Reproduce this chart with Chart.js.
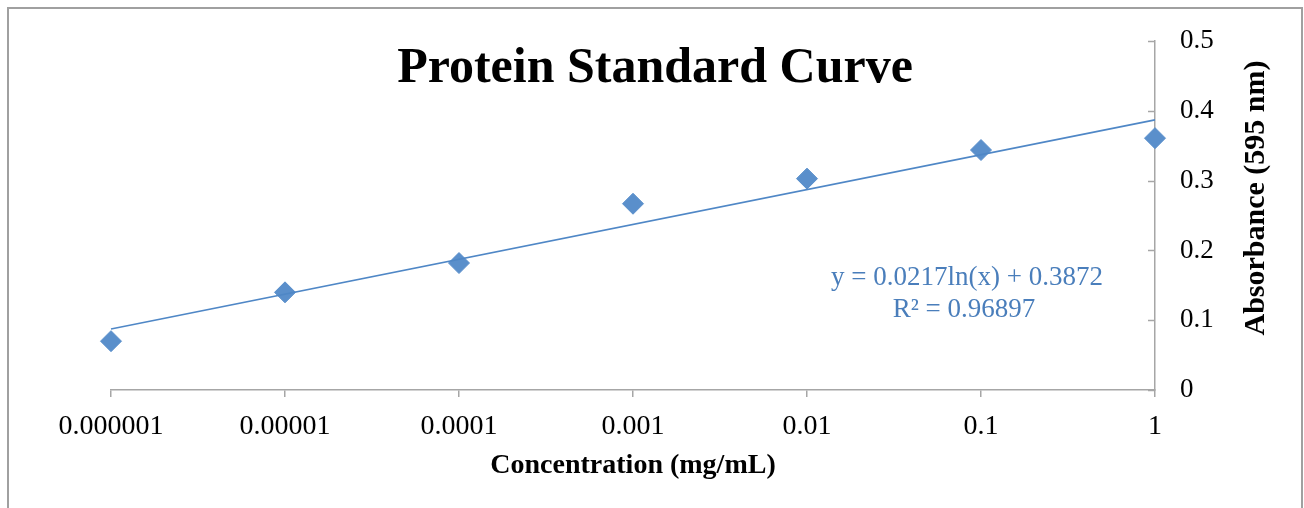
<!DOCTYPE html>
<html>
<head>
<meta charset="utf-8">
<script src="https://cdn.jsdelivr.net/npm/chart.js@4"></script>
<style>
  html, body { margin: 0; padding: 0; background: #fff; }
  #wrap { width: 1304px; height: 508px; }
</style>
</head>
<body>
<div id="wrap"><canvas id="curveChart" width="1304" height="508"></canvas></div>
<script>
// values
const concentrations = [0.000001, 0.00001, 0.0001, 0.001, 0.01, 0.1, 1];
const absorbance = [0.070, 0.140, 0.182, 0.267, 0.303, 0.344, 0.361];
const trendX = [0.000001, 1];
const trendY = [0.0874, 0.3872];
const xTicks = [0.000001, 0.00001, 0.0001, 0.001, 0.01, 0.1, 1];
const xTickLabels = ["0.000001", "0.00001", "0.0001", "0.001", "0.01", "0.1", "1"];
const yTickLabels = ["0", "0.1", "0.2", "0.3", "0.4", "0.5"];
const equationLines = ["y = 0.0217ln(x) + 0.3872", "R\u00b2 = 0.96897"];

const serif = "'Liberation Serif', 'Times New Roman', serif";
const axisGray = "#a6a6a6";
const blue = "#4f87c6";

const extras = {
    id: "extras",
    afterDraw(chart) {
        const ctx = chart.ctx;
        const y = chart.scales.y;
        const area = chart.chartArea;
        ctx.save();

        // outer frame
        ctx.strokeStyle = "#a0a0a0";
        ctx.lineWidth = 2;
        ctx.beginPath();
        ctx.moveTo(8, 520);
        ctx.lineTo(8, 8);
        ctx.lineTo(1302, 8);
        ctx.lineTo(1302, 520);
        ctx.stroke();

        // y tick marks point into the plot
        ctx.strokeStyle = axisGray;
        ctx.lineWidth = 1.5;
        ctx.beginPath();
        y.ticks.forEach(t => {
            const py = Math.round(y.getPixelForValue(t.value)) + 0.5;
            ctx.moveTo(area.right - 7, py);
            ctx.lineTo(area.right, py);
        });
        ctx.stroke();

        // title
        ctx.fillStyle = "#000";
        ctx.textAlign = "center";
        ctx.textBaseline = "alphabetic";
        ctx.font = "bold 50px " + serif;
        ctx.fillText("Protein Standard Curve", 655, 82);

        // y axis title, reads bottom to top
        ctx.save();
        ctx.translate(1264, 198);
        ctx.rotate(-Math.PI / 2);
        ctx.font = "bold 30px " + serif;
        ctx.fillText("Absorbance (595 nm)", 0, 0);
        ctx.restore();

        // trendline equation
        ctx.fillStyle = "#4a7ebb";
        ctx.font = "27px " + serif;
        ctx.fillText(equationLines[0], 967, 285);
        ctx.fillText(equationLines[1], 964, 317);

        ctx.restore();
    }
};

document.addEventListener("DOMContentLoaded", () => {
    const ctx = document.getElementById("curveChart").getContext("2d");

    new Chart(ctx, {
        type: "scatter",
        data: {
            datasets: [{
                label: "Trendline",
                data: trendX.map((x, i) => ({ x: x, y: trendY[i] })),
                showLine: true,
                borderColor: blue,
                borderWidth: 1.6,
                pointRadius: 0,
                pointHoverRadius: 0,
                clip: false
            }, {
                label: "Absorbance",
                data: concentrations.map((x, i) => ({ x: x, y: absorbance[i] })),
                showLine: false,
                pointStyle: "rectRot",
                pointRadius: 10.5,
                pointBackgroundColor: "#5a8fcb",
                pointBorderColor: "#5a8fcb",
                pointBorderWidth: 1,
                clip: false
            }]
        },
        options: {
            responsive: false,
            animation: false,
            layout: { padding: { left: 111, top: 40, right: 0, bottom: 0 } },
            plugins: {
                legend: { display: false },
                tooltip: { enabled: false }
            },
            scales: {
                x: {
                    type: "logarithmic",
                    min: 0.000001,
                    max: 1,
                    afterBuildTicks: scale => {
                        scale.ticks = xTicks.map(v => ({ value: v }));
                    },
                    afterFit: scale => { scale.height = 118; },
                    grid: {
                        drawOnChartArea: false,
                        drawTicks: true,
                        tickLength: 7,
                        color: axisGray,
                        lineWidth: 1.5
                    },
                    border: { display: true, color: axisGray, width: 1.5 },
                    ticks: {
                        padding: 13,
                        color: "#000",
                        font: { family: serif, size: 28 },
                        maxRotation: 0,
                        autoSkip: false,
                        callback: (value, index) => xTickLabels[index]
                    },
                    title: {
                        display: true,
                        text: "Concentration (mg/mL)",
                        color: "#000",
                        font: { family: serif, size: 28, weight: "bold" },
                        padding: { top: 0, bottom: 25 }
                    }
                },
                y: {
                    type: "linear",
                    position: "right",
                    min: 0,
                    max: 0.5,
                    afterFit: scale => { scale.width = 149; },
                    grid: { drawOnChartArea: false, drawTicks: false },
                    border: { display: true, color: axisGray, width: 1.5 },
                    ticks: {
                        stepSize: 0.1,
                        padding: 25,
                        color: "#000",
                        font: { family: serif, size: 27 },
                        callback: (value, index) => yTickLabels[index]
                    }
                }
            }
        },
        plugins: [extras]
    });
});
</script>
</body>
</html>
